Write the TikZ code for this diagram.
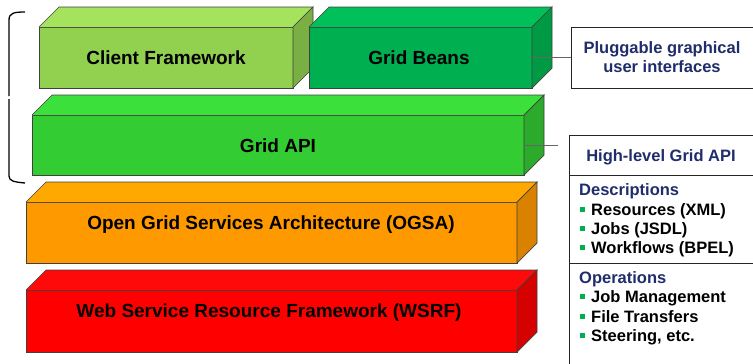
\documentclass[tikz,border=0pt]{standalone}
\usepackage{fontspec}
\setmainfont{Liberation Sans}
\usetikzlibrary{calc}
\definecolor{cfF}{HTML}{92D050}\definecolor{cfT}{HTML}{A6E35C}\definecolor{cfS}{HTML}{7AB043}
\definecolor{gbF}{HTML}{00B050}\definecolor{gbT}{HTML}{00C05A}\definecolor{gbS}{HTML}{009A44}
\definecolor{gaF}{HTML}{33CC33}\definecolor{gaT}{HTML}{3BE03B}\definecolor{gaS}{HTML}{2BAA2B}
\definecolor{ogF}{HTML}{FF9900}\definecolor{ogT}{HTML}{FFA800}\definecolor{ogS}{HTML}{D98200}
\definecolor{wsF}{HTML}{FF0000}\definecolor{wsT}{HTML}{FF0A0A}\definecolor{wsS}{HTML}{D50000}
\definecolor{navy}{RGB}{31,45,107}
\definecolor{edge}{HTML}{404040}
\definecolor{bul}{HTML}{00B050}
\begin{document}
\begin{tikzpicture}[x=1pt,y=-1pt,
  face/.style={draw=edge,line width=0.7pt},
  front/.style={face,inner sep=0pt,outer sep=0pt},
  blocktext/.style={font=\fontsize{19}{22}\selectfont\bfseries,text=black,inner sep=0pt,anchor=base},
  infobox/.style={draw=black!85,line width=1pt,fill=white},
  head/.style={font=\fontsize{16.5}{20}\selectfont\bfseries,text=navy,inner sep=0pt},
  item/.style={font=\fontsize{16.5}{20}\selectfont\bfseries,text=black,inner sep=0pt,anchor=base west},
  bullet/.style={fill=bul,inner sep=0pt,minimum size=4.5pt},
  link/.style={draw=black!60,line width=0.7pt}]
\useasboundingbox (0,0) rectangle (753,364);
\clip (0,0) rectangle (753,364);
% block macro: name, x1,y1,x2,y2, colours F,T,S
\newcommand\myblock[8]{%
  \node[front,fill=#6,minimum width={#4-#2},minimum height={#5-#3}] (#1) at ({(#2+#4)/2},{(#3+#5)/2}) {};
  \fill[#7] (#1.north west) -- ++(20,-20) -- ($(#1.north east)+(20,-20)$) -- (#1.north east) -- cycle;
  \draw[face] (#1.north west) -- ++(20,-20) -- ($(#1.north east)+(20,-20)$) -- (#1.north east);
  \filldraw[face,fill=#8] (#1.north east) -- ++(20,-20) -- ($(#1.south east)+(20,-20)$) -- (#1.south east) -- cycle;
}
% brace
\draw[line width=1.3pt,black] (25,12) .. controls (14,12) and (9,13) .. (9,20) -- (9,96);
\draw[line width=1.3pt,black] (9,99) -- (9,176) .. controls (9,181) and (14,182) .. (25,183);
% blocks
\myblock{cf}{39}{27}{293}{88}{cfF}{cfT}{cfS}
\myblock{gb}{309}{27}{532}{88}{gbF}{gbT}{gbS}
\myblock{ga}{32}{115}{524}{175}{gaF}{gaT}{gaS}
\myblock{og}{26}{202}{517}{263}{ogF}{ogT}{ogS}
\myblock{ws}{26}{290}{517}{352}{wsF}{wsT}{wsS}
\node[blocktext] (cft) at (166,64) {Client Framework};
\node[blocktext] (gbt) at (419,64) {Grid Beans};
\node[blocktext] (gat) at (278,152) {Grid API};
\node[blocktext] (ogt) at (271,229) {Open Grid Services Architecture (OGSA)};
\node[blocktext] (wst) at (269,317) {Web Service Resource Framework (WSRF)};
% info box 1
\node[infobox,inner sep=0pt,minimum width=190pt,minimum height=61pt] (pb) at (666,57.5) {};
\node[head,align=center,anchor=center] (pbt) at (662,57) {Pluggable graphical\\[-1.5pt]user interfaces};
\draw[link] (gb.east |- pb.west) -- (pb.west);
% info box 2
\node[infobox,inner sep=0pt,minimum width=192pt,minimum height=240pt] (hb) at (665,255) {};
\coordinate (d1) at (569,175);
\coordinate (d2) at (569,263);
\draw[black!85,line width=1pt] (d1) -- ++(200,0);
\draw[black!85,line width=1pt] (d2) -- ++(200,0);
\node[head,anchor=base] (hbt) at (661,161) {High-level Grid API};
\coordinate (gap) at (558,145);
\draw[link] (ga.east |- gap) -- (gap);
\node[head,anchor=base west] (desc) at (579,195) {Descriptions};
\node[bullet] (b1) at (582.5,209.5) {}; \node[item] (i1) at (591,215) {Resources (XML)};
\node[bullet] (b2) at (582.5,228.5) {}; \node[item] (i2) at (591,234) {Jobs (JSDL)};
\node[bullet] (b3) at (582.5,247.5) {}; \node[item] (i3) at (591,253) {Workflows (BPEL)};
\node[head,anchor=base west] (ops) at (579,283) {Operations};
\node[bullet] (b4) at (582.5,296.5) {}; \node[item] (i4) at (591,302) {Job Management};
\node[bullet] (b5) at (582.5,316.5) {}; \node[item] (i5) at (591,322) {File Transfers};
\node[bullet] (b6) at (582.5,335.5) {}; \node[item] (i6) at (591,341) {Steering, etc.};
\end{tikzpicture}
\end{document}
